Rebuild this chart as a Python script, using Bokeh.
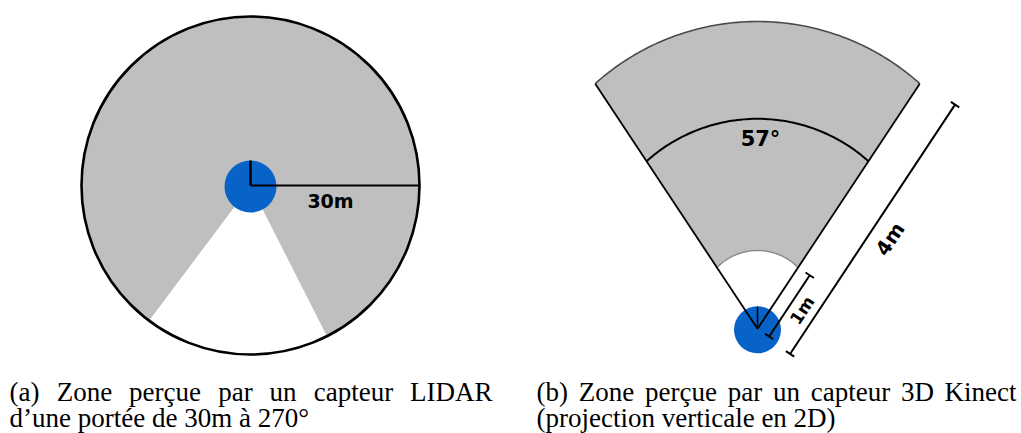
import numpy as np
from bokeh.plotting import figure
from bokeh.models import Range1d
from bokeh.embed import file_html
from bokeh.resources import INLINE
from bokeh.core.properties import value

# ---------------- data ----------------
lidar_range_m = 30                    # LIDAR range (m)
lidar_blind_deg = [-126.9, -63.1]     # drawn blind zone, math angles (deg)
lidar_label = "30m"

kinect_aperture_deg = 67              # drawn aperture of the fan (deg)
kinect_min_m = 1                      # near limit (m)
kinect_max_m = 4                      # far limit (m)
kinect_angle_label = "57°"
kinect_min_label = "1m"
kinect_max_label = "4m"

caption_a = ["(a) Zone perçue par un capteur LIDAR", "d’une portée de 30m à 270°"]
caption_b = ["(b) Zone perçue par un capteur 3D Kinect", "(projection verticale en 2D)"]

# ---------------- layout ----------------
W, H = 1021, 433
GRAY = "#bfbfbf"
BLUE = "#0863c8"
BOLD_FONT = value("DejaVu Sans")
SERIF = value("Liberation Serif")
CAP_SIZE = "27px"
# word anchors for the justified first caption lines (first: left, last: right, others: centre)
cap_a_word_x = [9, 84, 164.5, 235, 282.5, 353, 492]
cap_b_word_x = [536, 606, 680.5, 744.5, 786, 850, 917, 1016]
cap_base = [391, 417]


def Y(py):
    return H - py


p = figure(width=W, height=H, x_range=Range1d(0, W), y_range=Range1d(0, H),
           output_backend="svg", toolbar_location=None, x_axis_type=None, y_axis_type=None,
           min_border=0, outline_line_color=None, background_fill_color="white")
p.grid.visible = False

# ---- (a) LIDAR ----
lcx, lcy = 250, Y(185)
R_L = 169.0
px_per_m_l = R_L / lidar_range_m
r_outer = lidar_range_m * px_per_m_l
gap0, gap1 = np.radians(lidar_blind_deg[0]), np.radians(lidar_blind_deg[1])
p.wedge(x=[lcx], y=[lcy], radius=r_outer, start_angle=gap1, end_angle=gap0 + 2 * np.pi,
        fill_color=GRAY, line_color=None)
p.circle(x=[lcx], y=[lcy], radius=r_outer, fill_color=None, line_color="black", line_width=2.6)
p.circle(x=[lcx], y=[lcy - 1], radius=26, fill_color=BLUE, line_color=None)
p.segment(x0=[lcx], y0=[lcy], x1=[lcx + r_outer], y1=[lcy], line_color="black", line_width=2)
p.segment(x0=[lcx], y0=[lcy], x1=[lcx], y1=[lcy + 25], line_color="black", line_width=2.5)
p.text(x=[lcx + 80], y=[Y(200)], text=[lidar_label], text_font=BOLD_FONT, text_font_style="bold",
       text_font_size="19px", text_align="center", text_baseline="middle", text_color="black")

# ---- (b) Kinect ----
kx, ky = 757.0, Y(328.3)
S = 73.5  # px per metre
half = np.radians(kinect_aperture_deg / 2)
a_left = np.pi / 2 + half
a_right = np.pi / 2 - half


def edge_pt(d, ang):
    return kx + d * np.cos(ang), ky + d * np.sin(ang)


def arc_pts(d, top_h, n=80):
    lx, ly = edge_pt(d, a_left)
    rx, ry = edge_pt(d, a_right)
    t = ky + top_h
    hx = lx - kx
    cy = (t * t - ly * ly - hx * hx) / (2 * (t - ly))
    ar = np.arctan2(ry - cy, rx - kx)
    al = np.arctan2(ly - cy, lx - kx)
    R = t - cy
    a = np.linspace(ar, al, n)
    return kx + R * np.cos(a), cy + R * np.sin(a)


d_out = kinect_max_m * S
d_in = kinect_min_m * S
ox, oy = arc_pts(d_out, 307.3)
ix, iy = arc_pts(d_in, 78.3)
mx, my = arc_pts(201.0, 210.0)

px_ = np.concatenate([ox, ix[::-1]])
py_ = np.concatenate([oy, iy[::-1]])
p.patch(x=px_, y=py_, fill_color=GRAY, line_color=None)
p.line(x=ox, y=oy, line_color="#4a4a4a", line_width=1.6)
p.line(x=ix, y=iy, line_color="#8a8a8a", line_width=1.4)
p.line(x=mx, y=my, line_color="black", line_width=2)

p.circle(x=[kx], y=[ky - 1], radius=23.5, fill_color=BLUE, line_color=None)
lxo, lyo = edge_pt(d_out, a_left)
rxo, ryo = edge_pt(d_out, a_right)
p.segment(x0=[kx, kx], y0=[ky, ky], x1=[lxo, rxo], y1=[lyo, ryo], line_color="black", line_width=1.8)
p.segment(x0=[kx], y0=[ky], x1=[kx], y1=[ky + 22], line_color="black", line_width=1.5)

# dimension lines parallel to right edge
u = np.array([np.cos(a_right), np.sin(a_right)])
nrm = np.array([np.sin(a_right), -np.cos(a_right)])
K = np.array([kx, ky])


def dim_line(off, s0, s1, tick=5):
    a = K + nrm * off + u * s0
    b = K + nrm * off + u * s1
    xs0 = [a[0], a[0] - nrm[0] * tick, b[0] - nrm[0] * tick]
    ys0 = [a[1], a[1] - nrm[1] * tick, b[1] - nrm[1] * tick]
    xs1 = [b[0], a[0] + nrm[0] * tick, b[0] + nrm[0] * tick]
    ys1 = [b[1], a[1] + nrm[1] * tick, b[1] + nrm[1] * tick]
    p.segment(x0=xs0, y0=ys0, x1=xs1, y1=ys1, line_color="black", line_width=2)


dim_line(14, 0, d_in)
dim_line(41, -3, d_out + 2)
t1 = K + u * 40 + nrm * 27
t4 = K + u * 148 + nrm * 61
p.text(x=[t1[0]], y=[t1[1]], text=[kinect_min_label], angle=a_right, text_font=BOLD_FONT,
       text_font_style="bold", text_font_size="17px", text_align="center", text_baseline="middle")
p.text(x=[t4[0]], y=[t4[1]], text=[kinect_max_label], angle=a_right, text_font=BOLD_FONT,
       text_font_style="bold", text_font_size="20px", text_align="center", text_baseline="middle")
p.text(x=[760], y=[Y(138)], text=[kinect_angle_label], text_font=BOLD_FONT, text_font_style="bold",
       text_font_size="21px", text_align="center", text_baseline="middle")


# ---- captions ----
def justified(words, xs, py):
    n = len(words)
    aligns = ["left"] + ["center"] * (n - 2) + ["right"]
    for w, x, al in zip(words, xs, aligns):
        p.text(x=[x], y=[Y(py)], text=[w], text_font=SERIF, text_font_size=CAP_SIZE,
               text_align=al, text_baseline="alphabetic", text_color="black")


justified(caption_a[0].split(" "), cap_a_word_x, cap_base[0])
justified(caption_b[0].split(" "), cap_b_word_x, cap_base[0])
p.text(x=[cap_a_word_x[0], cap_b_word_x[0]], y=[Y(cap_base[1])] * 2, text=[caption_a[1], caption_b[1]],
       text_font=SERIF, text_font_size=CAP_SIZE, text_align="left", text_baseline="alphabetic",
       text_color="black")

open("out.html", "w").write(file_html(p, INLINE))
